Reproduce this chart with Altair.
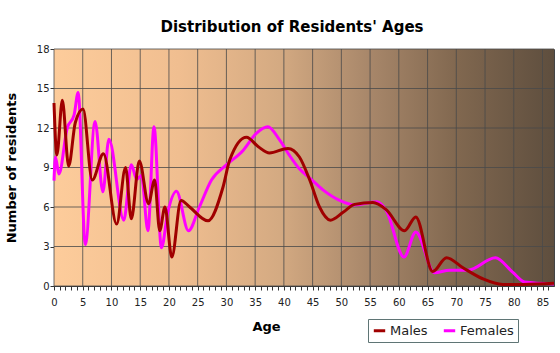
import altair as alt
import pandas as pd

# ---- data ----
m_age = [0, 0.5, 1.45, 2.55, 3.7, 5.05, 6.65, 8.6, 10.9, 12.45, 13.45, 14.85, 16.45, 17.5,
         18.4, 19.3, 20.5, 22.1, 23.6, 26.8, 29.4, 30.6, 33.5, 35.5, 37.5, 40.7, 42.7, 44.5,
         46.2, 48.1, 50.3, 52.3, 55.5, 57.8, 61.0, 62.95, 65.9, 68.3, 71.1, 74.6, 78.1, 81.6, 87]
m_val = [13.9, 9.95, 14.1, 9.1, 12.4, 13.45, 8.05, 10.05, 4.7, 9.0, 5.1, 9.5, 6.25, 8.05,
         4.2, 6.0, 2.2, 6.5, 6.0, 4.95, 7.5, 9.6, 11.3, 10.6, 10.1, 10.45, 9.8, 8.05,
         6.0, 5.0, 5.6, 6.2, 6.35, 5.8, 4.2, 5.25, 1.1, 2.15, 1.4, 0.55, 0.12, 0.12, 0.2]

f_age = [0, 0.25, 0.85, 2.3, 3.5, 4.2, 5.45, 7.15, 8.5, 9.55, 12.15, 13.45, 14.4, 15.2,
         16.35, 17.4, 18.7, 19.8, 21.3, 23.4, 25.3, 27.4, 30.0, 32.9, 35.2, 37.2, 39.25,
         41.0, 42.7, 44.5, 46.8, 49.7, 52.3, 56.1, 57.8, 60.9, 62.95, 66.2, 68.8, 72.0,
         76.8, 79.8, 81.9, 87]
f_val = [8.0, 9.8, 8.5, 12.0, 13.0, 14.7, 3.15, 12.5, 7.15, 11.15, 5.0, 9.2, 8.1, 8.4,
         4.2, 12.1, 2.9, 5.6, 7.2, 4.2, 6.0, 8.05, 9.2, 10.3, 11.6, 12.1, 11.1,
         9.9, 8.9, 8.2, 7.3, 6.5, 6.15, 6.4, 5.75, 2.2, 4.1, 1.0, 1.2, 1.2,
         2.15, 1.05, 0.3, 0.15]

series_names = ["Males", "Females"]
series_colors = ["#A00000", "#FF00FF"]
x_ticks = list(range(0, 87))
x_grid = [0, 5, 10, 15, 20, 25, 30, 35, 40, 45, 50, 55, 60, 65, 70, 75, 80, 85]
y_ticks = [0, 3, 6, 9, 12, 15, 18]

males = pd.DataFrame({"age": m_age, "value": m_val, "series": "Males"})
females = pd.DataFrame({"age": f_age, "value": f_val, "series": "Females"})

FONT = "DejaVu Sans"
W, H = 500, 237

x_enc = alt.X(
    "age:Q",
    scale=alt.Scale(domain=[0, 87], nice=False, zero=False),
    axis=alt.Axis(
        values=x_ticks,
        title="Age",
        labelExpr="datum.value % 5 === 0 ? datum.label : ''",
        labelOverlap=False,
        labelFlush=False,
        labelFont=FONT,
        labelFontSize=10,
        labelColor="#222222",
        labelPadding=7,
        tickSize=4,
        tickColor="#333333",
        domainColor="#333333",
        grid=False,
        titleFont=FONT,
        titleFontSize=13,
        titleFontWeight="bold",
        titleColor="#000000",
        titlePadding=13,
        titleX=212,
    ),
)

y_enc = alt.Y(
    "value:Q",
    scale=alt.Scale(domain=[0, 18], nice=False),
    axis=alt.Axis(
        values=y_ticks,
        title="Number of residents",
        labelFont=FONT,
        labelFontSize=10,
        labelColor="#222222",
        labelPadding=1,
        tickSize=4,
        tickColor="#333333",
        domainColor="#333333",
        grid=False,
        titleFont=FONT,
        titleFontSize=13,
        titleFontWeight="bold",
        titleColor="#000000",
        titlePadding=18,
    ),
)

color_enc = alt.Color(
    "series:N",
    scale=alt.Scale(domain=series_names, range=series_colors),
    legend=alt.Legend(
        title=None,
        orient="none",
        legendX=314,
        legendY=270,
        direction="horizontal",
        symbolType="stroke",
        symbolSize=130,
        symbolStrokeWidth=3,
        labelFont=FONT,
        labelFontSize=13,
        labelColor="#222222",
        strokeColor="#5f7575",
        padding=4,
        columnPadding=9,
        labelOffset=3,
    ),
)

bg = alt.Gradient(
    gradient="linear",
    x1=0, x2=1, y1=0, y2=0,
    stops=[
        alt.GradientStop(color="#FDCC9B", offset=0),
        alt.GradientStop(color="#F0BE90", offset=0.25),
        alt.GradientStop(color="#D4AA82", offset=0.45),
        alt.GradientStop(color="#A8876A", offset=0.63),
        alt.GradientStop(color="#80674F", offset=0.81),
        alt.GradientStop(color="#5E4E3E", offset=1),
    ],
)

bg_layer = alt.Chart(pd.DataFrame({"age": [0]})).mark_rect(color=bg).encode(
    x=alt.value(0), x2=alt.value(W), y=alt.value(0), y2=alt.value(H)
)

vgrid = alt.Chart(pd.DataFrame({"age": x_grid})).mark_rule(
    color="#4a4a4a", opacity=0.8, strokeWidth=1
).encode(x=x_enc)

hgrid = alt.Chart(pd.DataFrame({"value": y_ticks})).mark_rule(
    color="#4a4a4a", opacity=0.8, strokeWidth=1
).encode(y=y_enc)

fem_layer = alt.Chart(females).mark_line(interpolate="monotone", strokeWidth=3).encode(
    x=x_enc, y=y_enc, color=color_enc
)
male_layer = alt.Chart(males).mark_line(interpolate="monotone", strokeWidth=3).encode(
    x=x_enc, y=y_enc, color=color_enc
)

chart = (
    alt.layer(bg_layer, vgrid, hgrid, fem_layer, male_layer)
    .properties(
        width=W,
        height=H,
        autosize=alt.AutoSizeParams(type="none"),
        padding={"left": 54, "top": 49, "right": 6, "bottom": 67},
        background="white",
        title=alt.TitleParams(
            "Distribution of Residents' Ages",
            font=FONT,
            fontSize=15,
            fontWeight="bold",
            color="#000000",
            anchor="middle",
            dx=-12,
            offset=9,
        ),
    )
    .configure_view(stroke="#444444", strokeWidth=1)
)

chart.save("out.html", embed_options={"renderer": "svg", "actions": False})
